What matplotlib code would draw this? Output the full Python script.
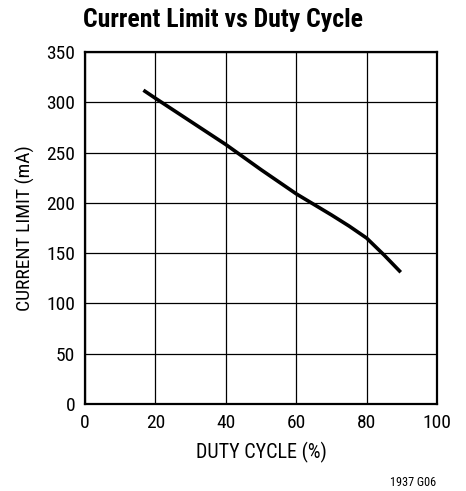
import matplotlib
matplotlib.use("Agg")
import matplotlib.pyplot as plt
from matplotlib import font_manager

duty = [16.6, 20, 30, 40, 50, 60, 70, 75, 80, 85, 89.7]
current = [312, 304, 281, 258, 233, 209, 188, 177, 165, 148, 131]

xticks = [0, 20, 40, 60, 80, 100]
yticks = [0, 50, 100, 150, 200, 250, 300, 350]

names = {f.name for f in font_manager.fontManager.ttflist}
fam = 'DejaVu Sans'
for cand in ['Nimbus Sans Narrow', 'Roboto Condensed', 'Archivo Narrow', 'Liberation Sans']:
    if cand in names:
        fam = cand
        break
plt.rcParams['font.family'] = [fam, 'DejaVu Sans']

fig = plt.figure(figsize=(4.66, 4.91), dpi=100)
ax = fig.add_axes([85/466, 1-404/491, 352/466, 352/491])
ax.plot(duty, current, color='black', lw=2.6, solid_capstyle='butt')
ax.set_xlim(0, 100)
ax.set_ylim(0, 350)
ax.set_xticks(xticks)
ax.set_yticks(yticks)
ax.grid(True, color='black', lw=0.9)
ax.tick_params(length=0, labelsize=14, pad=7)
for s in ax.spines.values():
    s.set_linewidth(1.6)
ax.set_xlabel('DUTY CYCLE (%)', fontsize=14.5, labelpad=7)
ax.set_ylabel('CURRENT LIMIT (mA)', fontsize=14, labelpad=8)
fig.text(223/466, 1-20/491, 'Current Limit vs Duty Cycle', fontsize=18.5,
         fontweight='bold', ha='center', va='center')
fig.text(436/466, 1-482/491, '1937 G06', fontsize=8.8, ha='right', va='center')
fig.savefig('out.png', dpi=100)
